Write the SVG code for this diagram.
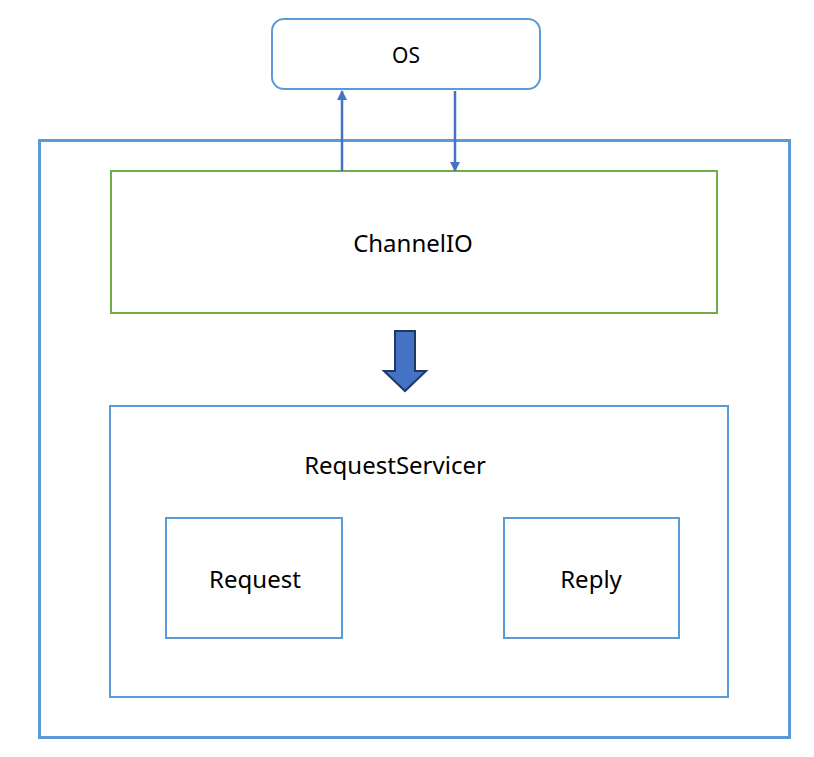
<svg xmlns="http://www.w3.org/2000/svg" width="814" height="757" viewBox="0 0 814 757">
<style>
.b{fill:#fff;stroke:#5b9bd5;stroke-width:2}
.t{font-family:"Noto Sans","Liberation Sans",sans-serif;font-size:24px;fill:#000;text-anchor:middle;dominant-baseline:central}
.c{stroke:#4472c4;stroke-width:2.5;fill:none}
</style>
<defs>
<marker id="ah" viewBox="0 0 10 10" refX="9" refY="5" markerWidth="4" markerHeight="4" orient="auto" markerUnits="strokeWidth">
<path d="M0,0L10,5L0,10z" fill="#4472c4"/>
</marker>
</defs>
<rect width="814" height="757" fill="#fff"/>
<g id="outer"><rect x="39.5" y="140.5" width="750" height="597" fill="#fff" stroke="#5b9bd5" stroke-width="3"/></g>
<g id="os"><rect class="b" x="272" y="19" width="268" height="70" rx="12"/><text class="t" x="406" y="55" style="font-size:21px">OS</text></g>
<g id="channelio"><rect x="111" y="171" width="606" height="142" fill="#fff" stroke="#70ad47" stroke-width="2"/><text class="t" x="413" y="242">ChannelIO</text></g>
<g id="requestservicer"><rect class="b" x="110" y="406" width="618" height="291"/><text class="t" x="395" y="464">RequestServicer</text></g>
<g id="request"><rect class="b" x="166" y="518" width="176" height="120"/><text class="t" x="255" y="578">Request</text></g>
<g id="reply"><rect class="b" x="504" y="518" width="175" height="120"/><text class="t" x="591" y="578">Reply</text></g>
<g id="connectors">
<line class="c" x1="342" y1="171" x2="342" y2="91" marker-end="url(#ah)"/>
<line class="c" x1="455" y1="91" x2="455" y2="171" marker-end="url(#ah)"/>
<path d="M395,331H415V371H426L405,391L384,371H395Z" fill="#4472c4" stroke="#203864" stroke-width="2" stroke-linejoin="miter"/>
</g>
</svg>
